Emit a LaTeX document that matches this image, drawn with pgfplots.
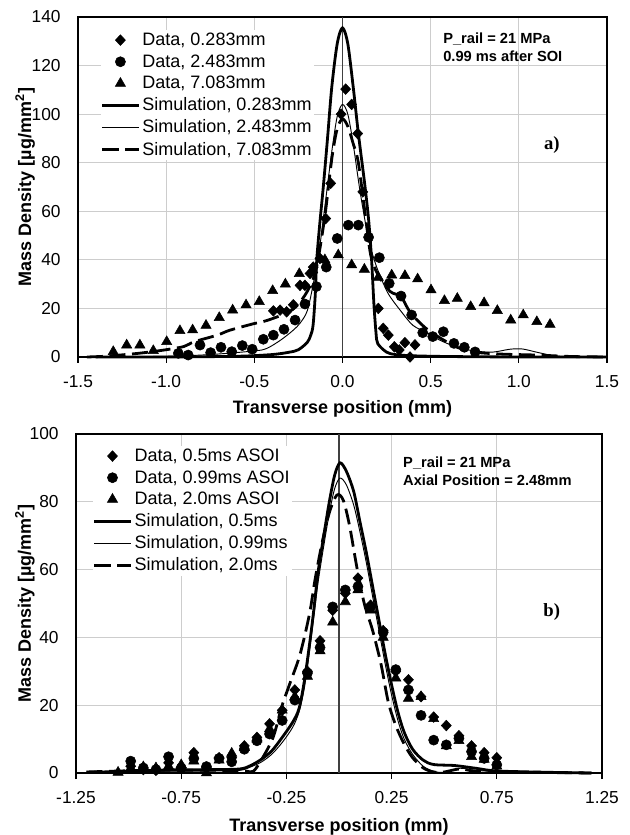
\documentclass[border=0pt]{standalone}
\usepackage{fontspec}
\setmainfont{Liberation Sans}
\newfontfamily\timesfont{Liberation Serif}
\usepackage{pgfplots}
\pgfplotsset{compat=1.18}
\definecolor{gridgray}{RGB}{205,205,205}

\pgfplotsset{
 mystyle/.style={
  scale only axis,
  clip=false,
  axis line style={black, line width=0.8pt},
  grid=major,
  major grid style={gridgray, line width=0.8pt},
  tick align=outside,
  xtick pos=bottom,
  ytick pos=left,
  major tick length=4.5pt,
  xtick style={black, line width=0.8pt},
  ytick style={draw=none},
  ticklabel style={font=\fontsize{13}{15}\selectfont},
  xticklabel style={yshift=-6pt},
  yticklabel style={xshift=-5pt},
  label style={font=\fontsize{13.5}{16}\selectfont\bfseries},
  legend cell align=left,
  legend style={draw=none, fill=white, inner sep=0pt, font=\fontsize{13.5}{16}\selectfont, row sep=1.3pt},
  legend image code/.code={\draw[mark repeat=2,mark phase=2,##1] plot coordinates {(0pt,0pt) (13.5pt,0pt) (27pt,0pt)};},
 },
 dia/.style={only marks, mark=diamond*, mark size=4pt, black, mark options={xscale=1.25}},
 cir/.style={only marks, mark=*, mark size=3.8pt, black},
 tri/.style={only marks, mark=triangle*, mark size=4.4pt, black},
 simA/.style={black, line width=2.1pt, no marks, smooth},
 simB/.style={black, line width=0.7pt, no marks, smooth},
 simC/.style={black, line width=2.1pt, no marks, smooth, dash pattern=on 12pt off 5pt},
}

\begin{document}
\begin{tikzpicture}
\useasboundingbox (0,0) rectangle (471.75pt,626.25pt);

% ---------------- a) ----------------
\begin{axis}[mystyle,
  at={(58.5pt,358.5pt)}, anchor=south west,
  width=396.75pt, height=255pt,
  xmin=-1.5, xmax=1.5, ymin=0, ymax=140,
  xtick={-1.5,-1,-0.5,0,0.5,1,1.5},
  xticklabels={-1.5,-1.0,-0.5,0.0,0.5,1.0,1.5},
  ytick={0,20,40,60,80,100,120,140},
  yticklabels={0,20,40,60,80,100,120,140},
  xlabel={Transverse position (mm)},
  ylabel={Mass Density [µg/mm\textsuperscript{2}]},
  xlabel style={at={(axis description cs:0.5,-0.153)}, anchor=center},
  ylabel style={at={(axis description cs:-0.1,0.5)}, anchor=center},
  legend style={at={(axis description cs:0.043,0.962)}, anchor=north west},
]
\addplot[black!75, line width=0.8pt, forget plot] coordinates {(0,0) (0,140)};
\addplot[dia] coordinates {(-0.392,19.0) (-0.354,19.3) (-0.317,18.6) (-0.279,21.5) (-0.241,29.5) (-0.213,29.5) (-0.184,34.4) (-0.166,37) (-0.128,40.6) (-0.095,57) (-0.067,71.5) (-0.008,100) (0.018,110.3) (0.052,104) (0.086,92) (0.115,68) (0.203,20) (0.231,11.8) (0.260,9) (0.294,4.2) (0.322,2.9) (0.354,5.9) (0.383,0) (0.411,5)};
\addlegendentry{Data, 0.283mm}
\addplot[cir] coordinates {(-0.931,1.5) (-0.875,0.8) (-0.808,4.9) (-0.748,1.8) (-0.689,4.0) (-0.628,2.2) (-0.568,4.7) (-0.512,3.2) (-0.449,7.3) (-0.392,9.0) (-0.332,11.4) (-0.269,15.2) (-0.213,21.8) (-0.148,29) (-0.092,37) (-0.030,48.8) (0.033,54.3) (0.090,54.3) (0.148,49.3) (0.209,40.9) (0.265,30.3) (0.332,25.1) (0.392,17.3) (0.455,10) (0.512,8.4) (0.572,10.4) (0.632,5.6) (0.691,4.0) (0.752,2.1)};
\addlegendentry{Data, 2.483mm}
\addplot[tri] coordinates {(-1.300,2.2) (-1.224,4.9) (-1.149,4.9) (-1.073,2.6) (-0.997,6.3) (-0.922,10.8) (-0.850,11.1) (-0.774,13) (-0.699,16.2) (-0.623,19.3) (-0.547,21.4) (-0.472,22.8) (-0.396,27.3) (-0.324,30) (-0.245,34.3) (-0.170,36) (-0.100,40) (-0.024,42) (0.052,37.9) (0.124,36.1) (0.203,32.8) (0.279,33.7) (0.354,33.5) (0.426,32.1) (0.502,27.6) (0.578,23.2) (0.651,24.1) (0.727,20.7) (0.803,22.3) (0.878,19.1) (0.954,15.2) (1.025,17.3) (1.102,14.5) (1.177,13.4)};
\addlegendentry{Data, 7.083mm}
\addplot[simA] coordinates {(-1.4,0) (-1.0,0) (-0.6,0.3) (-0.4,1) (-0.3,2) (-0.25,3) (-0.2,6) (-0.18,9) (-0.167,13) (-0.155,25) (-0.146,40) (-0.13,54) (-0.109,70) (-0.085,90) (-0.061,111) (-0.03,129) (0,135.5) (0.03,129) (0.061,111) (0.09,92) (0.128,70) (0.15,55) (0.165,40) (0.178,22) (0.19,10) (0.2,5.5) (0.25,2) (0.3,1) (0.4,0.5) (0.6,0.2) (1.0,0) (1.5,0)};
\addlegendentry{Simulation, 0.283mm}
\addplot[simB] coordinates {(-1.4,0) (-1.0,0.3) (-0.75,1) (-0.5,2.5) (-0.43,3.5) (-0.35,7) (-0.28,11) (-0.24,14) (-0.2,19) (-0.166,30) (-0.13,45) (-0.1,62) (-0.06,85) (-0.03,99) (0,104) (0.03,100) (0.06,88) (0.1,68) (0.146,49) (0.18,40) (0.21,34) (0.26,26) (0.33,19) (0.4,13) (0.48,10) (0.55,7) (0.65,4) (0.75,2.5) (0.85,2) (0.95,3.2) (1.02,3.3) (1.1,2) (1.2,0.5) (1.3,0.2) (1.5,0)};
\addlegendentry{Simulation, 2.483mm}
\addplot[simC] coordinates {(-1.45,0) (-1.35,0.3) (-1.2,1.2) (-1.1,2) (-1.0,3) (-0.9,4.3) (-0.84,6.3) (-0.71,9) (-0.64,11) (-0.51,13.6) (-0.43,15) (-0.32,18) (-0.26,21) (-0.2,27) (-0.15,36) (-0.1,58) (-0.06,82) (-0.03,94) (0,98) (0.03,95) (0.06,88) (0.09,80) (0.13,58) (0.16,42) (0.2,34) (0.27,27) (0.33,25) (0.37,20) (0.4,17) (0.47,12) (0.55,8) (0.65,4) (0.75,2) (0.9,1.2) (1.1,0.8) (1.3,0.2) (1.5,0)};
\addlegendentry{Simulation, 7.083mm}
\node[anchor=north west, inner sep=0pt, align=left, font=\fontsize{11}{13.5}\selectfont\bfseries] at (axis cs:0.57,133.7) {P\_rail = 21 MPa\\0.99 ms after SOI};
\node[font=\timesfont\bfseries\fontsize{14}{16}\selectfont] at (axis cs:1.187,87.2) {a)};
\end{axis}

% ---------------- b) ----------------
\begin{axis}[mystyle,
  at={(57pt,46.5pt)}, anchor=south west,
  width=394.5pt, height=254.25pt,
  xmin=-1.25, xmax=1.25, ymin=0, ymax=100,
  xtick={-1.25,-0.75,-0.25,0.25,0.75,1.25},
  xticklabels={-1.25,-0.75,-0.25,0.25,0.75,1.25},
  ytick={0,20,40,60,80,100},
  yticklabels={0,20,40,60,80,100},
  xlabel={Transverse position (mm)},
  ylabel={Mass Density [µg/mm\textsuperscript{2}]},
  xlabel style={at={(axis description cs:0.5,-0.159)}, anchor=center},
  ylabel style={at={(axis description cs:-0.097,0.5)}, anchor=center},
  legend style={at={(axis description cs:0.032,0.965)}, anchor=north west},
]
\addplot[black!75, line width=0.8pt, forget plot] coordinates {(0,0) (0,100)};
\addplot[dia] coordinates {(-0.99,2) (-0.93,1) (-0.87,0.8) (-0.81,3) (-0.75,1.5) (-0.69,6) (-0.63,1.5) (-0.57,4.5) (-0.51,4.5) (-0.45,8) (-0.39,10.5) (-0.33,14.5) (-0.27,18.5) (-0.21,24.5) (-0.15,30) (-0.09,39) (-0.03,48) (0.03,53) (0.09,57.5) (0.15,49.5) (0.21,42) (0.27,30) (0.33,27.5) (0.39,22.5) (0.45,16.5) (0.51,14) (0.57,11) (0.63,8) (0.69,6) (0.75,4.5)};
\addlegendentry{Data, 0.5ms ASOI}
\addplot[cir] coordinates {(-0.99,3.5) (-0.93,1.5) (-0.87,1) (-0.81,4.8) (-0.75,1.5) (-0.69,4.3) (-0.63,1.9) (-0.57,4.3) (-0.51,3.3) (-0.45,7) (-0.39,9.5) (-0.33,11.5) (-0.27,15.5) (-0.21,21.5) (-0.15,29.5) (-0.09,37) (-0.03,49) (0.03,54) (0.09,55) (0.15,49) (0.21,41.5) (0.27,30.5) (0.33,24.5) (0.39,17) (0.45,9.7) (0.51,8.3) (0.57,10.2) (0.63,6.3) (0.69,4.3) (0.75,2.4)};
\addlegendentry{Data, 0.99ms ASOI}
\addplot[tri] coordinates {(-1.05,0.2) (-0.99,1.5) (-0.93,1.8) (-0.87,1.5) (-0.81,2) (-0.75,2.4) (-0.69,3.5) (-0.63,0) (-0.57,3.8) (-0.51,5.8) (-0.45,7.5) (-0.39,10) (-0.33,13) (-0.27,18.5) (-0.21,22.5) (-0.15,28.5) (-0.09,36) (-0.03,44.5) (0.03,50.5) (0.09,54) (0.15,48) (0.21,40) (0.27,28) (0.33,22) (0.39,22.5) (0.45,16) (0.51,8) (0.57,9.5) (0.63,4.8) (0.69,4) (0.75,2)};
\addlegendentry{Data, 2.0ms ASOI}
\addplot[simA] coordinates {(-1.2,0.2) (-1.0,0.5) (-0.8,0.9) (-0.6,1.0) (-0.47,1.2) (-0.42,2.2) (-0.37,4) (-0.32,6.5) (-0.27,10.5) (-0.22,15) (-0.19,19) (-0.165,27) (-0.14,38) (-0.12,48) (-0.1,59) (-0.075,69) (-0.046,80) (-0.02,88) (0.005,91.5) (0.035,89) (0.07,83) (0.1,74) (0.13,65) (0.16,55) (0.19,45) (0.22,35) (0.25,26) (0.28,18) (0.31,12) (0.35,7) (0.4,3.8) (0.45,2.5) (0.55,2.2) (0.65,1.4) (0.75,0.6) (1.0,0.2) (1.2,0)};
\addlegendentry{Simulation, 0.5ms}
\addplot[simB] coordinates {(-1.2,0.2) (-0.9,0.5) (-0.6,0.6) (-0.47,0.8) (-0.42,1.8) (-0.37,3.2) (-0.32,5.5) (-0.27,9) (-0.22,13.5) (-0.19,18) (-0.165,25) (-0.14,36) (-0.12,46) (-0.1,56) (-0.075,66) (-0.045,77) (-0.02,84) (0.005,87) (0.035,85) (0.07,79) (0.1,71) (0.13,62) (0.16,52) (0.19,42) (0.22,32) (0.25,23) (0.28,15.5) (0.31,10) (0.35,5.5) (0.4,2) (0.45,0.5) (0.5,0.2) (0.575,1.4) (0.65,0.8) (0.8,0.3) (1.2,0)};
\addlegendentry{Simulation, 0.99ms}
\addplot[simC] coordinates {(-1.2,0.3) (-0.9,0.8) (-0.6,0.8) (-0.45,0.6) (-0.407,0.5) (-0.36,4.8) (-0.312,10.7) (-0.272,19.6) (-0.23,27) (-0.185,35) (-0.14,47) (-0.114,57) (-0.08,68) (-0.045,77) (-0.01,82) (0.02,80.5) (0.05,73) (0.084,61) (0.12,50) (0.16,42) (0.2,32) (0.234,21) (0.27,14) (0.31,8.5) (0.35,4.5) (0.4,1.5) (0.45,0.3) (0.5,0.3) (0.575,1.2) (0.65,0.5) (0.8,0.3) (1.2,0)};
\addlegendentry{Simulation, 2.0ms}
\node[anchor=north west, inner sep=0pt, align=left, font=\fontsize{11}{13.5}\selectfont\bfseries] at (axis cs:0.304,93.2) {P\_rail = 21 MPa\\Axial Position = 2.48mm};
\node[font=\timesfont\bfseries\fontsize{14}{16}\selectfont] at (axis cs:1.011,47.6) {b)};
\end{axis}
\end{tikzpicture}
\end{document}
